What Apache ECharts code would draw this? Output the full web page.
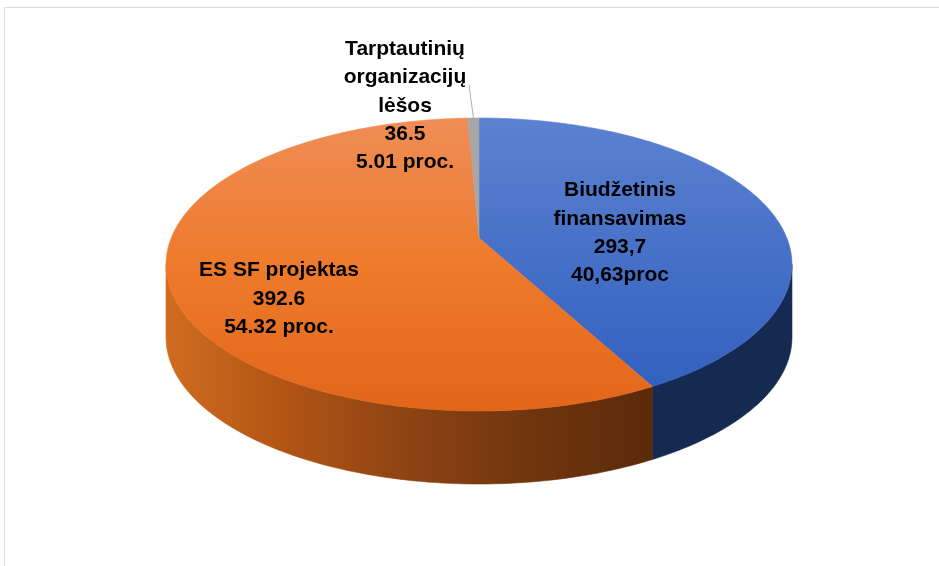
<!DOCTYPE html>
<html><head><meta charset="utf-8">
<script src="https://cdn.jsdelivr.net/npm/echarts@6/dist/echarts.min.js"></script>
<style>html,body{margin:0;padding:0;background:#fff}#c{width:939px;height:566px}</style>
</head><body><div id="c"></div>
<script>
// Categories (clockwise from 12 o'clock)
const categories = ['Biudžetinis finansavimas', 'ES SF projektas', 'Tarptautinių organizacijų lėšos'];
// Slice sizes as drawn in the picture (angles)
const values = [293.7, 398.5, 4.7];
// Label texts as printed in the picture
const nameLines = [['Biudžetinis', 'finansavimas'], ['ES SF projektas'], ['Tarptautinių', 'organizacijų', 'lėšos']];
const valueLabels = ['293,7', '392.6', '36.5'];
const percentLabels = ['40,63proc', '54.32 proc.', '5.01 proc.'];

// ---- styling / geometry (not data) ----
const K = 0.181, RA = 307.8, RB = 141.7, CX = 479, CY = 238, DEPTH = 73;
const SIL = Math.asin(K) * 180 / Math.PI;
const labelPos = [[620, 233], [279, 299], [405, 106]];
const topFill = [
  {type:'linear', x:0, y:118, x2:0, y2:411, global:true, colorStops:[{offset:0,color:'#5b81d0'},{offset:1,color:'#2f5ebe'}]},
  {type:'linear', x:0, y:118, x2:0, y2:411, global:true, colorStops:[{offset:0,color:'#ef8d56'},{offset:0.5,color:'#ee7a2c'},{offset:1,color:'#e2661a'}]},
  '#a6a6a6'
];
const sideFill = [
  '#142a50',
  {type:'linear', x:166, y:0, x2:655, y2:0, global:true, colorStops:[
    {offset:0,color:'#d06c20'},{offset:0.25,color:'#b05414'},{offset:0.5,color:'#8c4313'},{offset:0.75,color:'#70350e'},{offset:1,color:'#5a2a0a'}]},
  '#7a7a7a'
];

function proj(deg, r, dz) {
  const t = deg * Math.PI / 180;
  const u = r * Math.cos(t), v = r * Math.sin(t);
  const w = 1 / (1 + K * v);
  return [CX + RA * u * w, CY - RB * v * w + dz];
}
function arc(a0, a1, dz) {
  const n = Math.max(2, Math.ceil(Math.abs(a1 - a0)));
  const pts = [];
  for (let i = 0; i <= n; i++) pts.push(proj(a0 + (a1 - a0) * i / n, 1, dz));
  return pts;
}

const total = values.reduce((a, b) => a + b, 0);

function renderItem(params, api) {
  const i = params.dataIndex;
  const v = api.value(0);
  let cum = 0;
  for (let j = 0; j < i; j++) cum += values[j];
  const a0 = 90 - cum / total * 360;
  const a1 = 90 - (cum + v) / total * 360;
  const children = [];
  for (const sh of [-720, -360, 0, 360]) {
    const lo = Math.max(a1, -180 + SIL + sh), hi = Math.min(a0, -SIL + sh);
    if (lo < hi) {
      const pts = arc(hi, lo, 0).concat(arc(lo, hi, DEPTH));
      children.push({type:'polygon', z2:1, shape:{points:pts},
        style:{fill:sideFill[i], stroke:sideFill[i], lineWidth:0.6}});
    }
  }
  const topPts = [proj(0, 0, 0)].concat(arc(a0, a1, 0));
  children.push({type:'polygon', z2:2, shape:{points:topPts},
    style:{fill:topFill[i], stroke:topFill[i], lineWidth:0.6}});
  if (i === 2) {
    const m = proj((a0 + a1) / 2, 1, 0);
    children.push({type:'line', z2:3, shape:{x1:469, y1:85, x2:m[0], y2:m[1]},
      style:{stroke:'#a3b3c7', lineWidth:1}});
  }
  const txt = nameLines[i].concat([valueLabels[i], percentLabels[i]]).join('\n');
  children.push({type:'text', z2:4, x:labelPos[i][0], y:labelPos[i][1],
    style:{text:txt, fill:'#000', fontSize:21, fontWeight:'bold', fontFamily:'"Liberation Sans", Arial, sans-serif',
      align:'center', verticalAlign:'middle', lineHeight:28.3}});
  return {type:'group', children};
}

const chart = echarts.init(document.getElementById('c'), null, {renderer:'canvas'});
chart.setOption({
  animation: false,
  backgroundColor: '#ffffff',
  graphic: [{type:'rect', z:-10, shape:{x:4.5, y:7.5, width:1000, height:1000}, style:{fill:'none', stroke:'#d6dce4', lineWidth:1}}],
  series: [{
    type: 'custom',
    coordinateSystem: 'none',
    renderItem: renderItem,
    data: values.map((v, i) => ({name: categories[i], value: [v]})),
    silent: true
  }]
});
</script>
</body></html>
